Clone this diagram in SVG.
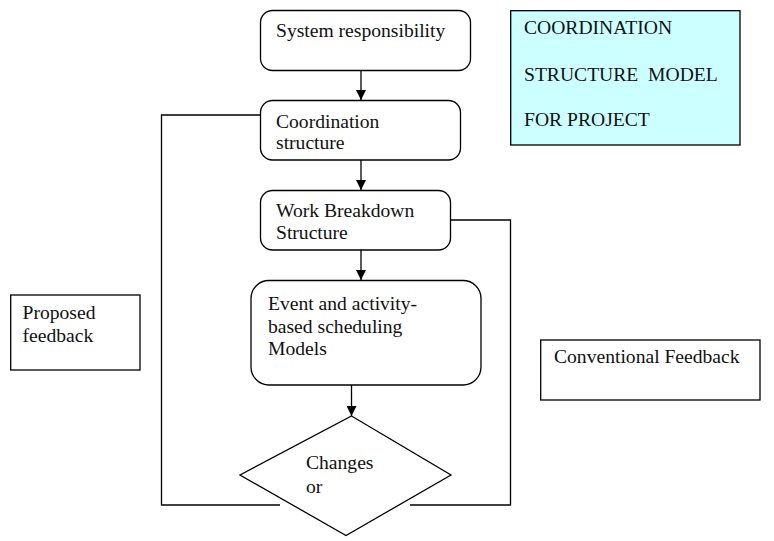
<svg xmlns="http://www.w3.org/2000/svg" width="774" height="541" viewBox="0 0 774 541">
<defs>
<marker id="arr" viewBox="0 0 10 10" refX="10" refY="5" markerWidth="10" markerHeight="10" markerUnits="userSpaceOnUse" orient="auto">
<path d="M0,0 L10,5 L0,10 z" fill="#000"/>
</marker>
<style>
.box{fill:#fff;stroke:#000;stroke-width:1.3}
.t{font-family:"Liberation Serif","Times New Roman",serif;font-size:19.6px;fill:#111}
.ln{fill:none;stroke:#000;stroke-width:1.3}
</style>
</defs>
<rect width="774" height="541" fill="#fff"/>
<g id="connectors">
<line class="ln" x1="361" y1="70" x2="361" y2="100" marker-end="url(#arr)"/>
<line class="ln" x1="361" y1="160" x2="361" y2="190" marker-end="url(#arr)"/>
<line class="ln" x1="361" y1="250" x2="361" y2="280" marker-end="url(#arr)"/>
<line class="ln" x1="351.5" y1="385" x2="351.5" y2="416" marker-end="url(#arr)"/>
<polyline class="ln" points="260,115 161.5,115 161.5,505 280,505"/>
<polyline class="ln" points="450,220 510.5,220 510.5,505 410,505"/>
</g>
<g id="system-responsibility">
<rect class="box" x="260.5" y="10.5" width="210" height="60" rx="12"/>
<text class="t" x="276" y="37">System responsibility</text>
</g>
<g id="coordination-structure">
<rect class="box" x="260.5" y="100.5" width="200" height="59.5" rx="12"/>
<text class="t" x="276" y="128">Coordination</text>
<text class="t" x="276" y="149">structure</text>
</g>
<g id="wbs">
<rect class="box" x="260.5" y="190.5" width="190" height="59.5" rx="12"/>
<text class="t" x="276" y="217">Work Breakdown</text>
<text class="t" x="276" y="239">Structure</text>
</g>
<g id="event-models">
<rect class="box" x="251" y="280.5" width="230" height="104.5" rx="18"/>
<text class="t" x="268" y="310">Event and activity-</text>
<text class="t" x="268" y="333">based scheduling</text>
<text class="t" x="268" y="355">Models</text>
</g>
<g id="changes">
<polygon class="box" points="351.5,416 451,475 346,535.5 240,475"/>
<text class="t" x="306" y="469">Changes</text>
<text class="t" x="306" y="493">or</text>
</g>
<g id="title">
<rect x="510.7" y="10.7" width="229.3" height="134.3" fill="#ccffff" stroke="#000" stroke-width="1.3"/>
<text class="t" x="524" y="34">COORDINATION</text>
<text class="t" x="524" y="81" xml:space="preserve">STRUCTURE  MODEL</text>
<text class="t" x="524" y="126">FOR PROJECT</text>
</g>
<g id="proposed-feedback">
<rect class="box" x="10.7" y="295" width="129.3" height="75"/>
<text class="t" x="22.5" y="319">Proposed</text>
<text class="t" x="22.5" y="342">feedback</text>
</g>
<g id="conventional-feedback">
<rect class="box" x="540.7" y="340" width="219.3" height="60"/>
<text class="t" x="554" y="363">Conventional Feedback</text>
</g>
</svg>
